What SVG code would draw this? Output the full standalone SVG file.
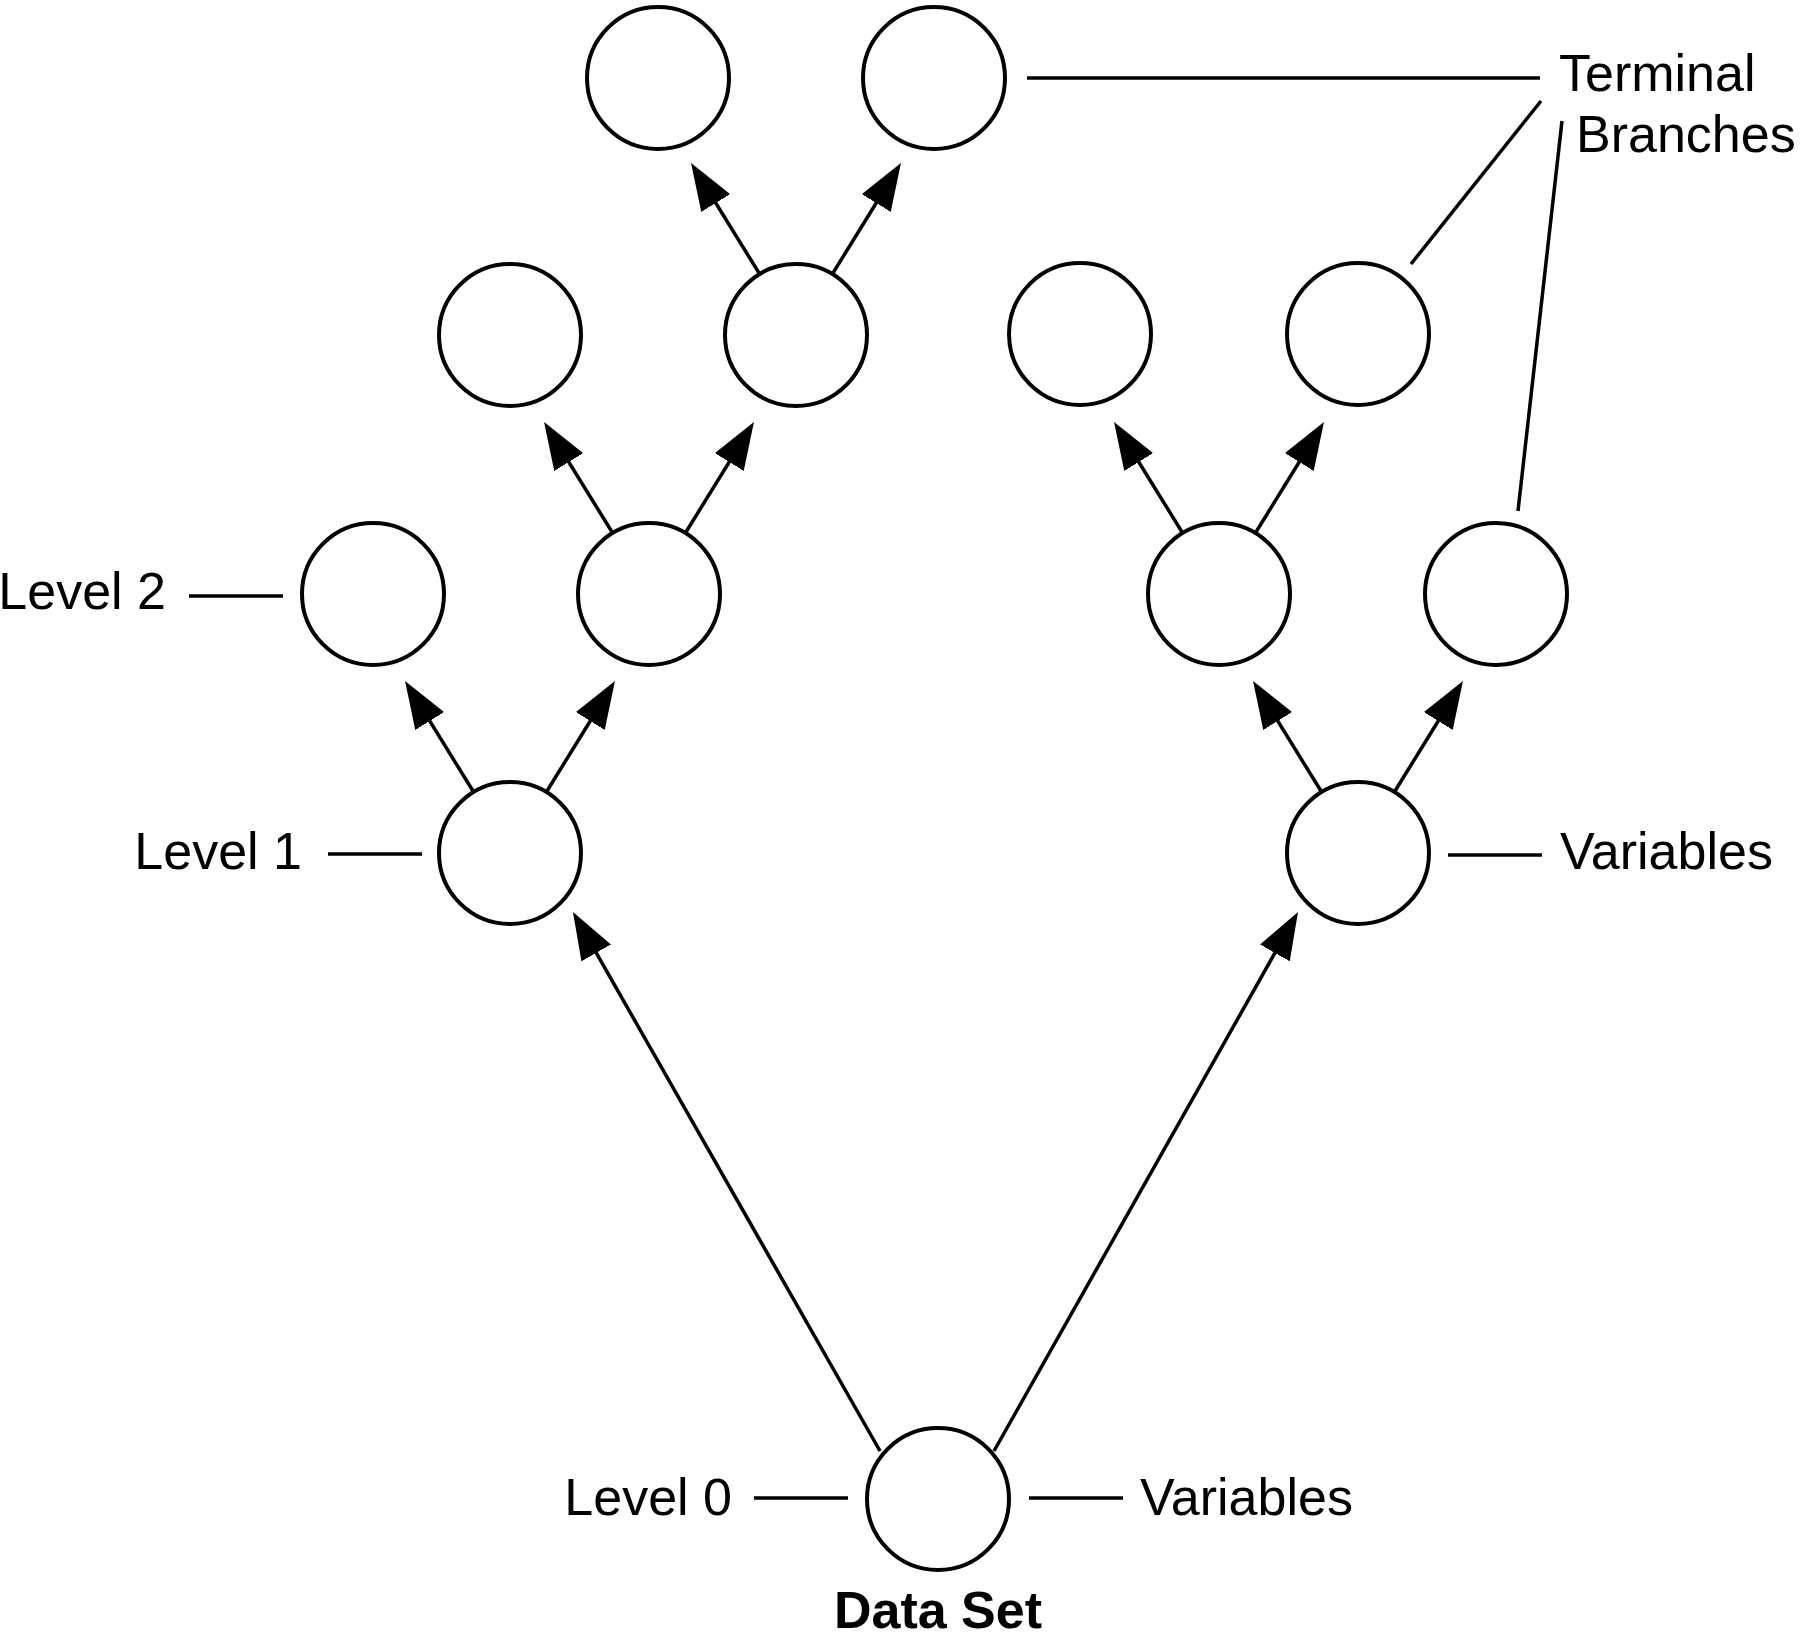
<svg xmlns="http://www.w3.org/2000/svg" width="1800" height="1639" viewBox="0 0 1800 1639">
<style>
.node{fill:#fff;stroke:#000;stroke-width:4}
.conn line{stroke:#000;stroke-width:3.5}
.arr{marker-end:url(#ah)}
text{font-family:"Liberation Sans",Arial,sans-serif;font-size:52px;fill:#000}
.b{font-weight:bold}
</style>
<defs>
<marker id="ah" viewBox="0 0 47 34" refX="37" refY="17" markerWidth="47" markerHeight="34" markerUnits="userSpaceOnUse" orient="auto">
<path d="M0,0 L47,17 L0,34 z" fill="#000"/>
</marker>
</defs>
<rect width="1800" height="1639" fill="#fff"/>
<g id="nodes">
<g id="n_r1a"><circle class="node" cx="658" cy="78" r="71"/></g>
<g id="n_r1b"><circle class="node" cx="934" cy="78" r="71"/></g>
<g id="n_r2a"><circle class="node" cx="510" cy="335" r="71"/></g>
<g id="n_r2b"><circle class="node" cx="796" cy="335" r="71"/></g>
<g id="n_r2c"><circle class="node" cx="1080" cy="334" r="71"/></g>
<g id="n_r2d"><circle class="node" cx="1358" cy="334" r="71"/></g>
<g id="n_r3a"><circle class="node" cx="373" cy="594" r="71"/></g>
<g id="n_r3b"><circle class="node" cx="649" cy="594" r="71"/></g>
<g id="n_r3c"><circle class="node" cx="1219" cy="594" r="71"/></g>
<g id="n_r3d"><circle class="node" cx="1496" cy="594" r="71"/></g>
<g id="n_r4a"><circle class="node" cx="510" cy="853" r="71"/></g>
<g id="n_r4b"><circle class="node" cx="1358" cy="853" r="71"/></g>
<g id="n_root"><circle class="node" cx="938" cy="1499" r="71"/></g>
</g>
<g id="connectors" class="conn">
<line class="arr" x1="880" y1="1451" x2="577.9" y2="920.7"/>
<line class="arr" x1="994" y1="1451" x2="1293.1" y2="920.7"/>
<line class="arr" x1="473" y1="791" x2="410.3" y2="689.5"/>
<line class="arr" x1="547" y1="791" x2="609.7" y2="689.5"/>
<line class="arr" x1="612" y1="532" x2="549.3" y2="430.5"/>
<line class="arr" x1="686" y1="532" x2="748.7" y2="430.5"/>
<line class="arr" x1="759" y1="273" x2="696.3" y2="171.5"/>
<line class="arr" x1="833" y1="273" x2="895.7" y2="171.5"/>
<line class="arr" x1="1321" y1="791" x2="1258.3" y2="689.5"/>
<line class="arr" x1="1395" y1="791" x2="1457.7" y2="689.5"/>
<line class="arr" x1="1182" y1="532" x2="1119.3" y2="430.5"/>
<line class="arr" x1="1256" y1="532" x2="1318.7" y2="430.5"/>
<line x1="189" y1="596" x2="283" y2="596"/>
<line x1="328" y1="854" x2="422" y2="854"/>
<line x1="754" y1="1498" x2="848" y2="1498"/>
<line x1="1029" y1="1498" x2="1123" y2="1498"/>
<line x1="1448" y1="855" x2="1542" y2="855"/>
<line x1="1027" y1="78" x2="1540" y2="78"/>
<line x1="1541" y1="101" x2="1411" y2="264"/>
<line x1="1562" y1="121" x2="1518" y2="511"/>
</g>
<g id="labels">
<text x="166" y="609" text-anchor="end">Level 2</text>
<text x="302" y="869" text-anchor="end">Level 1</text>
<text x="732" y="1515" text-anchor="end">Level 0</text>
<text x="1140" y="1515">Variables</text>
<text x="1560" y="869">Variables</text>
<text x="1559" y="91">Terminal</text>
<text x="1576" y="152">Branches</text>
<text class="b" x="938" y="1628" text-anchor="middle">Data Set</text>
</g>
</svg>
